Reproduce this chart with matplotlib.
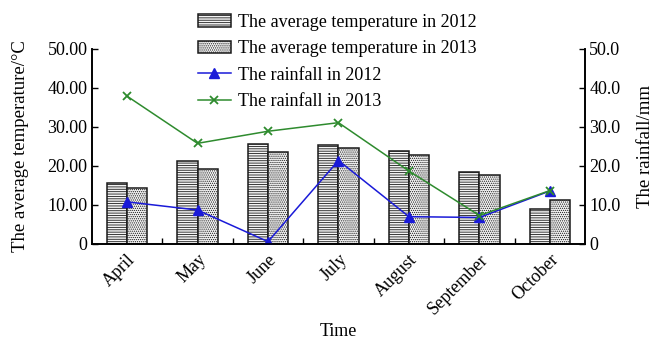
import numpy as np
import matplotlib
matplotlib.use("Agg")
from matplotlib import pyplot as plt
from matplotlib import transforms
from matplotlib.ticker import FixedLocator, FuncFormatter

# Monthly data, 2012 vs 2013
months = ["April", "May", "June", "July", "August", "September", "October"]
temp_2012 = [15.6, 21.2, 25.7, 25.4, 23.8, 18.5, 8.9]
temp_2013 = [14.3, 19.1, 23.6, 24.6, 22.9, 17.8, 11.2]
rain_2012 = [10.8, 8.7, 0.6, 21.4, 7.0, 6.8, 13.6]
rain_2013 = [37.9, 25.8, 28.9, 31.1, 18.7, 7.3, 13.7]

plt.rcParams["font.family"] = ["Liberation Serif", "DejaVu Serif"]
plt.rcParams["font.size"] = 13
plt.rcParams["hatch.linewidth"] = 0.6
plt.rcParams["hatch.color"] = "#666666"

fig = plt.figure(figsize=(6.65, 3.41), dpi=100)
ax = fig.add_axes([0.138, 0.2845, 0.742, 0.572])
ax2 = ax.twinx()

x = np.arange(len(months))
w = 0.29
b1 = ax.bar(x - w / 2, temp_2012, w, color="#f4f4f4", edgecolor="#1a1a1a",
            linewidth=1.1, hatch="-------", label="The average temperature in 2012")
b2 = ax.bar(x + w / 2, temp_2013, w, color="#f4f4f4", edgecolor="#1a1a1a",
            linewidth=1.1, hatch="........", label="The average temperature in 2013")

l1, = ax2.plot(x, rain_2012, color="#1a1ad8", marker="^", markersize=6.5,
               linewidth=1.1, label="The rainfall in 2012")
l2, = ax2.plot(x, rain_2013, color="#2e8b2e", marker="x", markersize=6,
               markeredgewidth=1.3, linewidth=1.1, label="The rainfall in 2013")

ax.set_xlim(-0.5, len(months) - 0.5)
ax.set_ylim(0, 50)
ax2.set_ylim(0, 50)

ax.set_yticks([0, 10, 20, 30, 40, 50])
ax.yaxis.set_major_formatter(FuncFormatter(lambda v, p: "0" if v == 0 else f"{v:.2f}"))
ax2.set_yticks([0, 10, 20, 30, 40, 50])
ax2.yaxis.set_major_formatter(FuncFormatter(lambda v, p: "0" if v == 0 else f"{v:.1f}"))

ax.set_xticks(x)
ax.set_xticklabels(months, rotation=45, ha="right", rotation_mode="anchor")
# nudge the month labels a little to the left of their centres
shift = transforms.ScaledTranslation(-6 / 100, 0, fig.dpi_scale_trans)
for lab in ax.get_xticklabels():
    lab.set_transform(lab.get_transform() + shift)
ax.xaxis.set_minor_locator(FixedLocator(np.arange(0.5, len(months) - 0.5, 1)))
ax.tick_params(axis="x", which="major", length=0, pad=5)
ax.tick_params(axis="x", which="minor", direction="in", length=4, width=1)
ax.tick_params(axis="y", direction="in", length=4, width=1, pad=3)
ax2.tick_params(axis="y", direction="in", length=4, width=1, pad=3)

for a in (ax, ax2):
    a.spines["top"].set_visible(False)
    for s in ("left", "right", "bottom"):
        a.spines[s].set_linewidth(1.2)

ax.set_xlabel("Time", labelpad=4)
ax.set_ylabel("The average temperature/\u00b0C", labelpad=13, fontsize=13.5)
ax2.set_ylabel("The rainfall/mm", labelpad=12, fontsize=13.5)

ax2.legend([b1, b2, l1, l2],
           [b1.get_label(), b2.get_label(), l1.get_label(), l2.get_label()],
           loc="upper left", bbox_to_anchor=(198 / 665, 1 - 14 / 341),
           bbox_transform=fig.transFigure, frameon=False,
           handlelength=1.8, handleheight=0.7, labelspacing=0.52,
           handletextpad=0.4, borderaxespad=0, borderpad=0)

fig.savefig("out.png", dpi=100)
